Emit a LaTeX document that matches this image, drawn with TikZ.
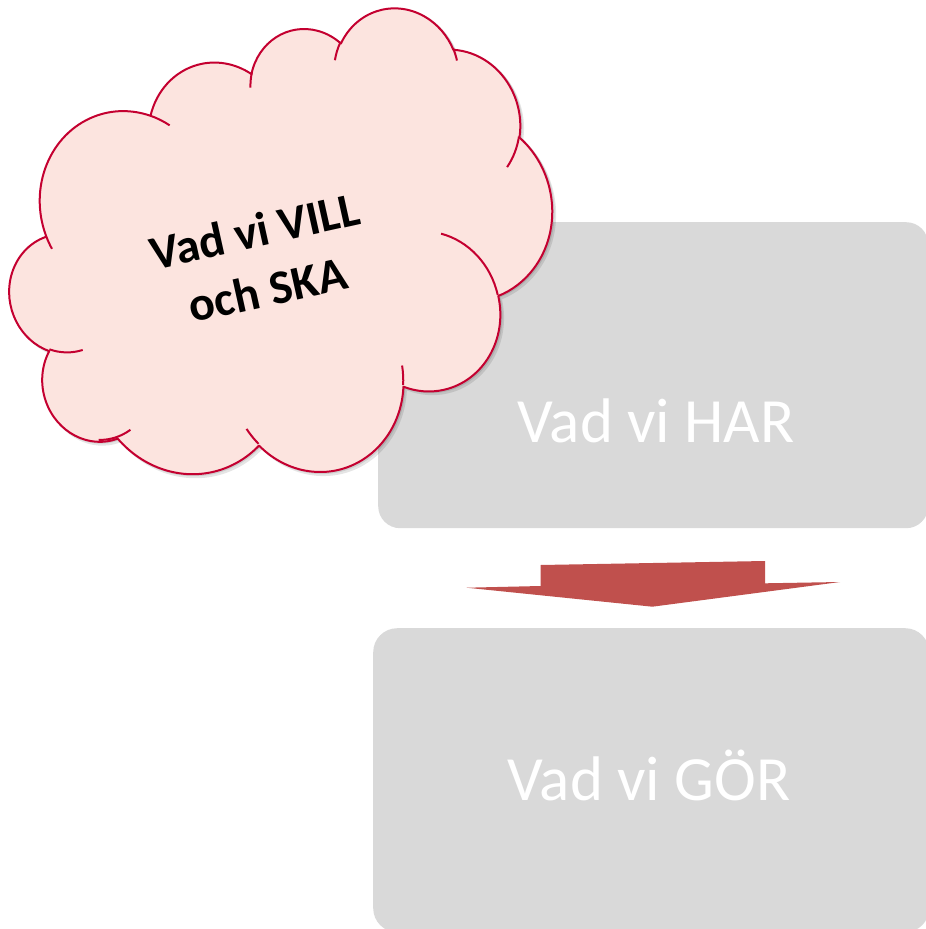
\documentclass[tikz,border=0pt]{standalone}
\usepackage{fontspec}
\setmainfont{Carlito}
\definecolor{cloudfill}{RGB}{252,228,223}
\definecolor{cloudline}{RGB}{196,0,48}
\definecolor{boxgray}{RGB}{217,217,217}
\definecolor{arrowred}{RGB}{192,80,77}

% OOXML-style arcTo: polar angles converted to parametric ones
\newcommand\cloudarcdef[5]{%
  \pgfmathsetmacro\cloudS{atan2((#2)*sin(#4),(#3)*cos(#4))}%
  \pgfmathsetmacro\cloudE{atan2((#2)*sin((#4)+(#5)),(#3)*cos((#4)+(#5)))}%
  \pgfmathsetmacro\cloudD{mod((\cloudE)-(\cloudS)+720,360)}%
  \expandafter\xdef\csname #1\endcsname{arc[start angle=\cloudS,delta angle=\cloudD,x radius=#2,y radius=#3]}%
}
\cloudarcdef{cldA}{67.53}{91.90}{-190.4875}{123.7805}
\cloudarcdef{cldB}{53.33}{72.67}{-144.1024}{89.9452}
\cloudarcdef{cldC}{43.65}{59.45}{-145.8079}{99.7230}
\cloudarcdef{cldD}{48.57}{65.95}{-130.9861}{117.2417}
\cloudarcdef{cldE}{53.33}{72.73}{-78.7089}{109.0269}
\cloudarcdef{cldF}{67.75}{92.20}{-46.2673}{130.2690}
\cloudarcdef{cldG}{57.85}{78.67}{0.6250}{114.0333}
\cloudarcdef{cldH}{67.52}{92.15}{22.4516}{115.1726}
\cloudarcdef{cldI}{77.20}{105.43}{66.2426}{75.7110}
\cloudarcdef{cldJ}{43.60}{59.18}{-274.9421}{146.7356}
\cloudarcdef{cldK}{43.45}{59.45}{-246.8285}{152.5189}
\cloudarcdef{stbA}{43.45}{59.45}{86.7420}{26.4295}
\cloudarcdef{stbB}{43.60}{59.18}{73.6105}{26.1694}
\cloudarcdef{stbC}{67.52}{92.15}{137.6242}{13.7565}
\cloudarcdef{stbD}{67.52}{92.15}{6.4533}{15.9984}
\cloudarcdef{stbE}{57.85}{78.67}{-70.2924}{70.9174}
\cloudarcdef{stbF}{53.33}{72.73}{30.3180}{27.7515}
\cloudarcdef{stbG}{48.57}{65.95}{-13.7443}{14.8589}
\cloudarcdef{stbH}{48.57}{65.95}{-149.1815}{18.1954}
\cloudarcdef{stbI}{43.65}{59.45}{-163.4943}{17.6864}
\cloudarcdef{stbJ}{67.53}{91.90}{-66.7070}{12.3194}
\cloudarcdef{stbK}{67.53}{91.90}{157.6544}{11.8582}

\def\cloudoutline{(-177.00,-72.30) \cldA \cldB \cldC \cldD \cldE \cldF \cldG \cldH \cldI \cldJ \cldK -- cycle}
\def\cloudstubs{(-169.07,45.77) \stbA (-146.72,132.99) \stbB (-51.22,174.90) \stbC
  (72.27,131.51) \stbD (125.29,13.54) \stbE (201.98,-62.46) \stbF
  (167.24,-161.74) \stbG (74.78,-176.48) \stbH (5.41,-168.80) \stbI
  (-76.00,-164.08) \stbJ (-174.73,-58.11) \stbK}

\tikzset{
  graybox/.style={fill=boxgray, draw=none, rounded corners=22pt, inner sep=0pt},
  boxtext/.style={text=white, font=\fontsize{63}{70}\selectfont, inner sep=0pt},
  cloudtext/.style={text=black, font=\bfseries\fontsize{48}{60}\selectfont, align=center, inner sep=0pt},
  cloudedge/.style={cloudline, line width=2pt},
}

\begin{document}
\begin{tikzpicture}[x=1pt, y=-1pt]
  \useasboundingbox (0,0) rectangle (926,929);
  \clip (0,0) rectangle (926,929);

  % boxes
  \node[graybox, anchor=north west, minimum width=550pt, minimum height=306pt] (harbox) at (378,222) {};
  \node[graybox, anchor=north west, minimum width=556pt, minimum height=304pt, rounded corners=24pt] (gorbox) at (373,628) {};
  \node[boxtext, anchor=base] (hartext) at (656,442) {Vad vi HAR};
  \node[boxtext, anchor=base] (gortext) at (649,800) {Vad vi GÖR};

  % arrow
  \coordinate (a1) at (540.5,565);
  \coordinate (a2) at (765,561);
  \coordinate (a3) at (765,583.3);
  \coordinate (a4) at (840,582);
  \coordinate (a5) at (652.4,606.7);
  \coordinate (a6) at (466.5,587.7);
  \coordinate (a7) at (540.5,586);
  \fill[arrowred] (a1) -- (a2) -- (a3) -- (a4) -- (a5) -- (a6) -- (a7) -- cycle;

  % cloud shadow
  \begin{scope}[shift={(285.3,259.2)}, rotate=13, xscale=1.279, yscale=1.02]
    \fill[black, opacity=0.10] \cloudoutline;
  \end{scope}
  \begin{scope}[shift={(283.8,257.2)}, rotate=13, xscale=1.279, yscale=1.02]
    \fill[black, opacity=0.10] \cloudoutline;
  \end{scope}
  % cloud
  \begin{scope}[shift={(282.3,256.2)}, rotate=13, xscale=1.275, yscale=1.015]
    \fill[cloudfill] \cloudoutline;
    \draw[cloudedge, line join=round] \cloudoutline;
    \draw[cloudedge] \cloudstubs;
  \end{scope}
  \node[cloudtext, rotate=12.5] (cloudlabel) at (261,260) {Vad vi VILL\\och SKA};
\end{tikzpicture}
\end{document}
